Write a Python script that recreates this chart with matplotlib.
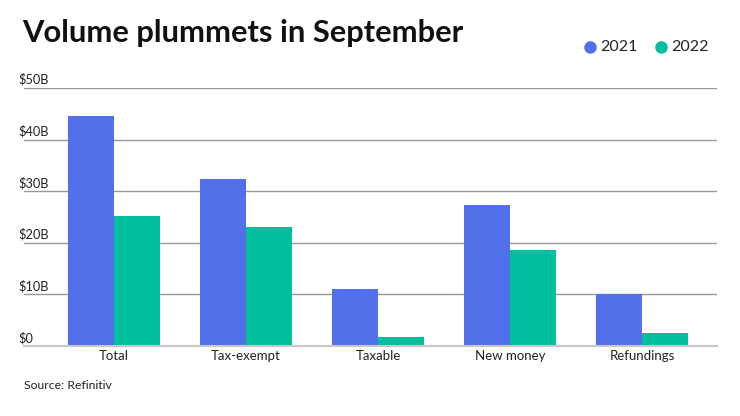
import numpy as np
import matplotlib
matplotlib.use("Agg")
import matplotlib.pyplot as plt
import matplotlib.transforms as mtransforms
from matplotlib.lines import Line2D

categories = ["Total", "Tax-exempt", "Taxable", "New money", "Refundings"]
vol_2021 = [44.6, 32.4, 11.0, 27.3, 10.1]
vol_2022 = [25.2, 23.1, 1.7, 18.6, 2.5]
series_names = ["2021", "2022"]
y_ticks = [0, 10, 20, 30, 40, 50]
y_tick_labels = ["$0", "$10B", "$20B", "$30B", "$40B", "$50B"]

BLUE = "#5170E9"
GREEN = "#00BF9E"

plt.rcParams['font.family'] = ['Lato', 'DejaVu Sans']


def main():
    fig = plt.figure(figsize=(7.4, 4.16), dpi=100)
    # axes placed in pixel terms: left 24, right 717, bottom y=346, top y=88
    W, H = 740, 416
    ax = fig.add_axes([24 / W, (H - 346) / H, (717 - 24) / W, (346 - 88) / H])

    x = np.arange(len(categories))
    width = 0.345
    ax.bar(x - width / 2, vol_2021, width, color=BLUE, zorder=3)
    ax.bar(x + width / 2, vol_2022, width, color=GREEN, zorder=3)

    ax.set_xlim(-0.682, 4.568)
    ax.set_ylim(0, 50)

    ax.set_yticks(y_ticks)
    ax.set_yticklabels(y_tick_labels)
    ax.yaxis.grid(True, color="#999999", linewidth=1.0, zorder=0)
    ax.tick_params(axis="y", length=0, pad=0, labelsize=9.2, labelcolor="#222222")
    offset = mtransforms.ScaledTranslation(-6 / 100, 2 / 100, fig.dpi_scale_trans)
    for lab in ax.get_yticklabels():
        lab.set_ha("left")
        lab.set_va("bottom")
        lab.set_transform(lab.get_transform() + offset)

    ax.set_xticks(x)
    ax.set_xticklabels(categories)
    ax.tick_params(axis="x", length=0, pad=3, labelsize=9.5, labelcolor="#222222")

    for side in ["top", "right", "left"]:
        ax.spines[side].set_visible(False)
    ax.spines["bottom"].set_color("#c8c8c8")
    ax.spines["bottom"].set_linewidth(1.5)
    ax.spines["bottom"].set_zorder(4)

    fig.text(22 / W, 1 - 42 / H, "Volume plummets in September",
             fontsize=22.2, fontweight="bold", color="#111111", ha="left", va="baseline")

    # legend
    for col, px in zip([BLUE, GREEN], [590, 661]):
        fig.add_artist(Line2D([px / W], [1 - 47 / H], transform=fig.transFigure,
                              marker="o", markersize=8, color=col, linestyle="none"))
    for name, px in zip(series_names, [600, 671]):
        fig.text(px / W, 1 - 47 / H, name, fontsize=11.5, color="#222222", ha="left", va="center")

    fig.text(24 / W, 1 - 389 / H, "Source: Refinitiv", fontsize=8.8, color="#222222",
             ha="left", va="baseline")

    fig.savefig("out.png", dpi=100)


if __name__ == '__main__':
    main()
